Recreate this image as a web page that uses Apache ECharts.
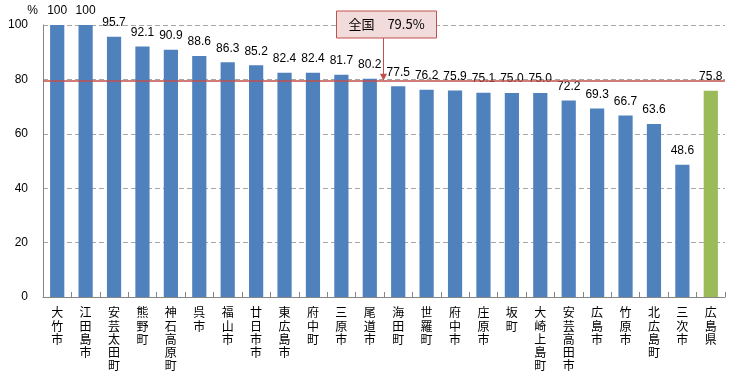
<!DOCTYPE html>
<html><head><meta charset="utf-8">
<script src="https://cdn.jsdelivr.net/npm/echarts@6/dist/echarts.min.js"></script>
<style>html,body{margin:0;padding:0;background:#fff}#c{width:756px;height:379px}</style>
</head><body><div id="c"></div>
<script>
const categories = ['大竹市','江田島市','安芸太田町','熊野町','神石高原町','呉市','福山市','廿日市市','東広島市','府中町','三原市','尾道市','海田町','世羅町','府中市','庄原市','坂町','大崎上島町','安芸高田市','広島市','竹原市','北広島町','三次市','広島県'];
const values = [100,100,95.7,92.1,90.9,88.6,86.3,85.2,82.4,82.4,81.7,80.2,77.5,76.2,75.9,75.1,75.0,75.0,72.2,69.3,66.7,63.6,48.6,75.8];
const highlightCategory = '広島県';
const nationalValue = 79.5;
const nationalLabel = '全国　79.5%';
const nationalBetween = ['尾道市','海田町'];
const yTicks = [0,20,40,60,80,100];

const chart = echarts.init(document.getElementById('c'));
const NUMF = '"Liberation Sans", Arial, sans-serif';
const CJKF = '"Noto Sans CJK JP", sans-serif';
chart.setOption({
  animation: false,
  grid: {left: 43, right: 31, top: 25, bottom: 82, containLabel: false},
  xAxis: {
    type: 'category', data: categories,
    axisLine: {lineStyle: {color: '#868686'}},
    axisTick: {show: true, inside: true, length: 5, lineStyle: {color: '#868686'}},
    axisLabel: {interval: 0, margin: 9, fontSize: 12, lineHeight: 13.3, color: '#000', fontFamily: CJKF,
      formatter: v => v.split('').join('\n'), verticalAlign: 'top'}
  },
  yAxis: {
    type: 'value', min: yTicks[0], max: yTicks[yTicks.length-1], interval: 20,
    name: '%', nameLocation: 'end', nameGap: 8,
    nameTextStyle: {align: 'right', padding: [0, 5, 0, 0], fontSize: 12, color: '#000', fontFamily: NUMF},
    axisLine: {show: true, lineStyle: {color: '#868686'}},
    axisTick: {show: false},
    axisLabel: {fontSize: 12, color: '#000', margin: 15, fontFamily: NUMF},
    splitLine: {lineStyle: {color: '#a6a6a6', type: [5, 3], width: 1}}
  },
  series: [{
    type: 'bar', barWidth: '50%',
    data: values.map((v, i) => ({value: v, itemStyle: {color: categories[i] === highlightCategory ? '#9bbb59' : '#4f81bd'}})),
    label: {show: true, position: 'top', distance: 8, fontSize: 12, color: '#000', fontFamily: NUMF,
      formatter: p => (p.value === 100 ? '100' : p.value.toFixed(1))},
    markLine: {silent: true, symbol: 'none', label: {show: false},
      lineStyle: {color: '#c0504d', width: 1.5, type: 'solid'},
      data: [{yAxis: nationalValue}]}
  }]
});

const i0 = categories.indexOf(nationalBetween[0]);
const i1 = categories.indexOf(nationalBetween[1]);
const p0 = chart.convertToPixel({seriesIndex: 0}, [i0, nationalValue]);
const p1 = chart.convertToPixel({seriesIndex: 0}, [i1, nationalValue]);
const ax = Math.round((p0[0] + p1[0]) / 2) - 0.5;
const ay = p0[1];
const boxW = 100, boxH = 27, boxTop = 11;
chart.setOption({
  graphic: [
    {type: 'line', shape: {x1: ax, y1: boxTop + boxH, x2: ax, y2: ay - 5}, style: {stroke: '#c0504d', lineWidth: 1}, z: 100},
    {type: 'polygon', shape: {points: [[ax - 3.5, ay - 7], [ax + 3.5, ay - 7], [ax, ay]]}, style: {fill: '#c0504d'}, z: 100},
    {type: 'rect', shape: {x: ax - boxW / 2 + 3, y: boxTop, width: boxW, height: boxH},
      style: {fill: '#f2dcdb', stroke: '#c0504d', lineWidth: 1}, z: 100},
    {type: 'text', x: ax + 3, y: boxTop + boxH / 2, z: 101,
      style: {text: nationalLabel, fill: '#000', fontSize: 13, fontFamily: CJKF, align: 'center', verticalAlign: 'middle'}}
  ]
});
</script></body></html>
